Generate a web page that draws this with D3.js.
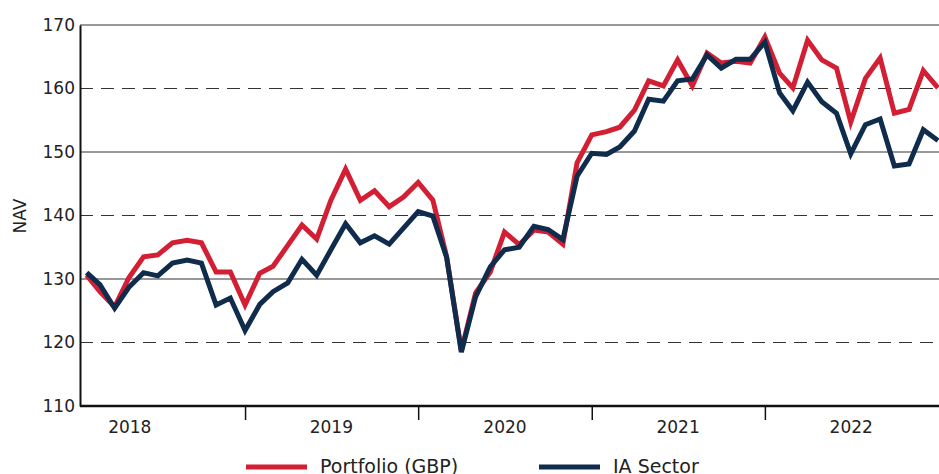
<!DOCTYPE html>
<html>
<head>
<meta charset="utf-8">
<script src="https://cdn.jsdelivr.net/npm/d3@7"></script>
<style>
  body { margin: 0; background: #fff; }
  svg { display: block; font-family: "DejaVu Sans", sans-serif; }
</style>
</head>
<body>
<svg width="939" height="474"></svg>
<script>
const svg = d3.select("svg");

// monthly NAV, Feb 2018 .. Jan 2023
const months = d3.timeMonth.range(new Date(2018, 1, 1), new Date(2023, 1, 1));
const portfolio = [130.6, 128.0, 125.6, 130.2, 133.5, 133.8, 135.7, 136.1, 135.7, 131.1, 131.1, 125.9,
                   130.9, 132.0, 135.3, 138.5, 136.3, 142.4, 147.3, 142.4, 143.9, 141.4, 142.9, 145.2,
                   142.4, 133.5, 118.7, 127.8, 131.1, 137.4, 135.4, 137.7, 137.4, 135.5, 148.3, 152.7,
                   153.2, 153.9, 156.6, 161.2, 160.4, 164.5, 160.4, 165.6, 164.0, 164.3, 164.0, 168.1,
                   162.4, 160.1, 167.6, 164.5, 163.2, 154.7, 161.6, 164.8, 156.1, 156.7, 162.8, 160.1];
const iaSector = [131.0, 129.1, 125.4, 128.7, 131.0, 130.5, 132.5, 133.0, 132.5, 125.9, 127.0, 121.9,
                  126.0, 128.0, 129.4, 133.1, 130.6, 134.6, 138.7, 135.7, 136.8, 135.5, 138.0, 140.6,
                  139.9, 133.4, 118.5, 127.2, 131.9, 134.6, 135.0, 138.3, 137.8, 136.2, 146.2, 149.8,
                  149.6, 150.8, 153.3, 158.3, 158.0, 161.2, 161.5, 165.3, 163.2, 164.6, 164.6, 167.3,
                  159.3, 156.5, 161.0, 157.9, 156.1, 149.7, 154.3, 155.2, 147.8, 148.1, 153.5, 151.8];

const seriesNames = ["Portfolio (GBP)", "IA Sector"];
const seriesColors = ["#d31f33", "#0f2c4c"];
const yTicks = [110, 120, 130, 140, 150, 160, 170];
const yearTicks = [2019, 2020, 2021, 2022];
const yearLabels = ["2018", "2019", "2020", "2021", "2022"];
const yearLabelDates = [new Date(2018, 4, 3), new Date(2019, 6, 2), new Date(2020, 6, 2), new Date(2021, 6, 2), new Date(2022, 6, 2)];

const plotLeft = 80, plotRight = 939, plotTop = 25, plotBottom = 406;

const x = d3.scaleTime()
    .domain([new Date(2018, 0, 18), new Date(2023, 0, 1)])
    .range([plotLeft, 938]);
const y = d3.scaleLinear().domain([110, 170]).range([plotBottom, plotTop]);

// grid lines: solid at 130/150/170, dashed at 120/140/160
svg.append("g")
    .selectAll("line")
    .data(yTicks.filter(d => d > 110))
    .join("line")
    .attr("x1", plotLeft)
    .attr("x2", plotRight)
    .attr("y1", d => y(d))
    .attr("y2", d => y(d))
    .attr("stroke", "#333")
    .attr("stroke-width", 1)
    .attr("stroke-dasharray", d => (d % 20 === 0) ? "13,8" : null);

// y axis
const yAxis = svg.append("g")
    .attr("transform", `translate(${plotLeft},0)`)
    .call(d3.axisLeft(y).tickValues(yTicks).tickSize(0).tickPadding(5));
yAxis.select(".domain").attr("stroke", "#111").attr("stroke-width", 2);
yAxis.selectAll("text")
    .attr("font-family", "DejaVu Sans, sans-serif")
    .attr("font-size", 17)
    .attr("fill", "#222");

// x axis
const xAxis = svg.append("g")
    .attr("transform", `translate(0,${plotBottom})`)
    .call(d3.axisBottom(x)
        .tickValues(yearTicks.map(yr => new Date(yr, 0, 1)))
        .tickSize(14)
        .tickFormat(""));
xAxis.select(".domain").attr("d", `M${plotLeft},0H${plotRight}`).attr("stroke", "#111").attr("stroke-width", 2.5);
xAxis.selectAll(".tick line").attr("stroke", "#111").attr("stroke-width", 1.5);

svg.append("g")
    .selectAll("text")
    .data(yearLabels)
    .join("text")
    .attr("x", (d, i) => x(yearLabelDates[i]))
    .attr("y", 433)
    .attr("text-anchor", "middle")
    .attr("font-size", 17)
    .attr("fill", "#222")
    .text(d => d);

// NAV label
svg.append("text")
    .attr("transform", "translate(26,216) rotate(-90)")
    .attr("text-anchor", "middle")
    .attr("font-size", 17)
    .attr("fill", "#222")
    .text("NAV");

// lines
const line = d3.line()
    .x((d, i) => x(months[i]))
    .y(d => y(d));

[portfolio, iaSector].forEach((values, k) => {
    svg.append("path")
        .datum(values)
        .attr("fill", "none")
        .attr("stroke", seriesColors[k])
        .attr("stroke-width", 5)
        .attr("stroke-linejoin", "miter")
        .attr("d", line);
});

// legend
const legendX = [246, 539];
const legend = svg.append("g")
    .selectAll("g")
    .data(seriesNames)
    .join("g")
    .attr("transform", (d, i) => `translate(${legendX[i]},467)`);
legend.append("line")
    .attr("x1", 0)
    .attr("x2", 61)
    .attr("stroke", (d, i) => seriesColors[i])
    .attr("stroke-width", 5);
legend.append("text")
    .attr("x", 74)
    .attr("y", 6)
    .attr("font-size", 19)
    .attr("fill", "#222")
    .text(d => d);
</script>
</body>
</html>
